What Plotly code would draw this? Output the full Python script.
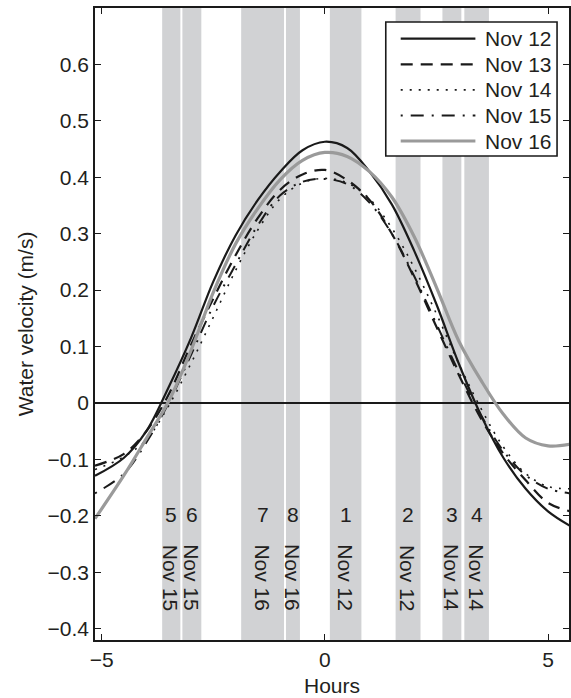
import plotly.graph_objects as go

# ---------------- data ----------------
hours = [-5.15, -4.5, -4.0, -3.5, -3.0, -2.5, -2.0, -1.5, -1.0, -0.5, 0.0,
         0.5, 1.0, 1.5, 2.0, 2.5, 3.0, 3.5, 4.0, 4.5, 5.0, 5.5]

nov12 = [-0.129, -0.097, -0.050, 0.028, 0.115, 0.215, 0.297, 0.360, 0.410, 0.448, 0.463,
         0.452, 0.410, 0.352, 0.270, 0.175, 0.070, -0.022, -0.097, -0.152, -0.192, -0.218]
nov13 = [-0.111, -0.090, -0.050, 0.015, 0.103, 0.185, 0.262, 0.328, 0.378, 0.405, 0.413,
         0.395, 0.360, 0.300, 0.222, 0.135, 0.050, -0.028, -0.090, -0.137, -0.177, -0.192]
nov14 = [-0.118, -0.095, -0.065, -0.005, 0.070, 0.152, 0.235, 0.307, 0.362, 0.390, 0.398,
         0.390, 0.362, 0.310, 0.240, 0.158, 0.070, -0.010, -0.078, -0.125, -0.148, -0.152]
nov15 = [-0.160, -0.125, -0.070, 0.000, 0.085, 0.172, 0.245, 0.315, 0.368, 0.392, 0.397,
         0.388, 0.355, 0.300, 0.225, 0.140, 0.055, -0.022, -0.085, -0.128, -0.152, -0.160]
nov16 = [-0.205, -0.128, -0.063, 0.003, 0.093, 0.196, 0.282, 0.345, 0.396, 0.430, 0.444,
         0.437, 0.410, 0.365, 0.295, 0.205, 0.110, 0.040, -0.020, -0.062, -0.076, -0.073]

series_names = ["Nov 12", "Nov 13", "Nov 14", "Nov 15", "Nov 16"]

band_start = [-3.645, -3.192, -1.875, -0.871, 0.112, 1.585, 2.634, 3.125]
band_end = [-3.237, -2.768, -0.915, -0.558, 0.819, 2.143, 3.058, 3.676]
band_numbers = ["5", "6", "7", "8", "1", "2", "3", "4"]
band_dates = ["Nov 15", "Nov 15", "Nov 16", "Nov 16", "Nov 12", "Nov 12", "Nov 14", "Nov 14"]

y_ticks = [-0.4, -0.3, -0.2, -0.1, 0, 0.1, 0.2, 0.3, 0.4, 0.5, 0.6]
x_ticks = [-5, 0, 5]

# ---------------- styles ----------------
FONT = "Liberation Sans, Arial, Helvetica, sans-serif"
TXT = "#231f20"
FS = 21
BAND = "#d1d2d4"
W, H = 571, 698
ML, MR, MT, MB = 95, 0, 8, 58
PW, PH = W - ML - MR, H - MT - MB


def px(x):
    return (x - ML) / PW


def py(y):
    return (H - MB - y) / PH


styles = [
    dict(color="#1a1a1a", width=2.2, dash="solid"),
    dict(color="#1a1a1a", width=2.2, dash="12px,8px"),
    dict(color="#1a1a1a", width=1.6, dash="2px,7px"),
    dict(color="#1a1a1a", width=2.0, dash="2px,8px,13px,8px"),
    dict(color="#9a9a9a", width=3.2, dash="solid"),
]

fig = go.Figure()

for name, ys, st in zip(series_names, [nov12, nov13, nov14, nov15, nov16], styles):
    fig.add_trace(go.Scatter(
        x=hours, y=ys, name=name, mode="lines",
        line=dict(color=st["color"], width=st["width"], dash=st["dash"],
                  shape="spline", smoothing=1.0),
        showlegend=False, hoverinfo="skip",
    ))

shapes = []
annotations = []
for x0, x1, num, dt in zip(band_start, band_end, band_numbers, band_dates):
    shapes.append(dict(type="rect", xref="x", yref="paper", x0=x0, x1=x1, y0=0, y1=1,
                       fillcolor=BAND, line=dict(width=0), layer="below"))
    xc = (x0 + x1) / 2
    annotations.append(dict(x=xc, y=py(514), xref="x", yref="paper", text=num,
                            showarrow=False, font=dict(family=FONT, size=FS, color=TXT),
                            xanchor="center", yanchor="middle"))
    annotations.append(dict(x=xc, y=py(578), xref="x", yref="paper", text=dt,
                            showarrow=False, textangle=90,
                            font=dict(family=FONT, size=FS, color=TXT),
                            xanchor="center", yanchor="middle"))

# manual legend box (paper coordinates)
shapes.append(dict(type="rect", xref="paper", yref="paper", x0=px(387), x1=px(559),
                   y0=py(156), y1=py(22), fillcolor="white",
                   line=dict(color="#1a1a1a", width=1.6), layer="above"))
leg_py = [38.7, 64.3, 89.9, 115.5, 141.0]
for name, st, ly in zip(series_names, styles, leg_py):
    shapes.append(dict(type="line", xref="paper", yref="paper", x0=px(402), x1=px(477),
                       y0=py(ly), y1=py(ly), layer="above",
                       line=dict(color=st["color"], width=st["width"], dash=st["dash"])))
    annotations.append(dict(x=px(485), y=py(ly), xref="paper", yref="paper", text=name,
                            showarrow=False, xanchor="left", yanchor="middle",
                            font=dict(family=FONT, size=FS, color=TXT)))

# axis titles
annotations.append(dict(text="Water velocity (m/s)", x=px(25), y=py(324), xref="paper", yref="paper",
                        showarrow=False, textangle=-90, xanchor="center", yanchor="middle",
                        font=dict(family=FONT, size=FS, color=TXT)))
annotations.append(dict(text="Hours", x=px(333), y=py(685), xref="paper", yref="paper",
                        showarrow=False, xanchor="center", yanchor="middle",
                        font=dict(family=FONT, size=FS, color=TXT)))

fig.update_layout(
    width=W, height=H,
    margin=dict(l=ML, r=MR, t=MT, b=MB),
    paper_bgcolor="white", plot_bgcolor="white",
    font=dict(family=FONT, size=FS, color=TXT),
    shapes=shapes, annotations=annotations,
    showlegend=False, hovermode=False,
)
fig.update_xaxes(
    range=[-5.15, 5.47], tickvals=x_ticks,
    ticktext=[("\u2212" + str(-v)) if v < 0 else str(v) for v in x_ticks],
    showgrid=False, zeroline=False,
    showline=True, linecolor="#1a1a1a", linewidth=2, mirror="ticks",
    ticks="inside", ticklen=6, tickwidth=1, tickcolor="#1a1a1a",
    tickfont=dict(family=FONT, size=FS, color=TXT),
)
fig.update_yaxes(
    range=[-0.42, 0.70], tickvals=y_ticks,
    ticktext=[("\u2212" if v < 0 else "") + ("0" if v == 0 else f"{abs(v):.1f}") for v in y_ticks],
    showgrid=False, zeroline=True, zerolinecolor="#1a1a1a", zerolinewidth=2,
    showline=True, linecolor="#1a1a1a", linewidth=1.5, mirror="ticks",
    ticks="inside", ticklen=6, tickwidth=1, tickcolor="#1a1a1a",
    tickfont=dict(family=FONT, size=FS, color=TXT),
)

fig.write_html("out.html", config={"displayModeBar": False},
               post_script="document.body.style.margin='0px';")
